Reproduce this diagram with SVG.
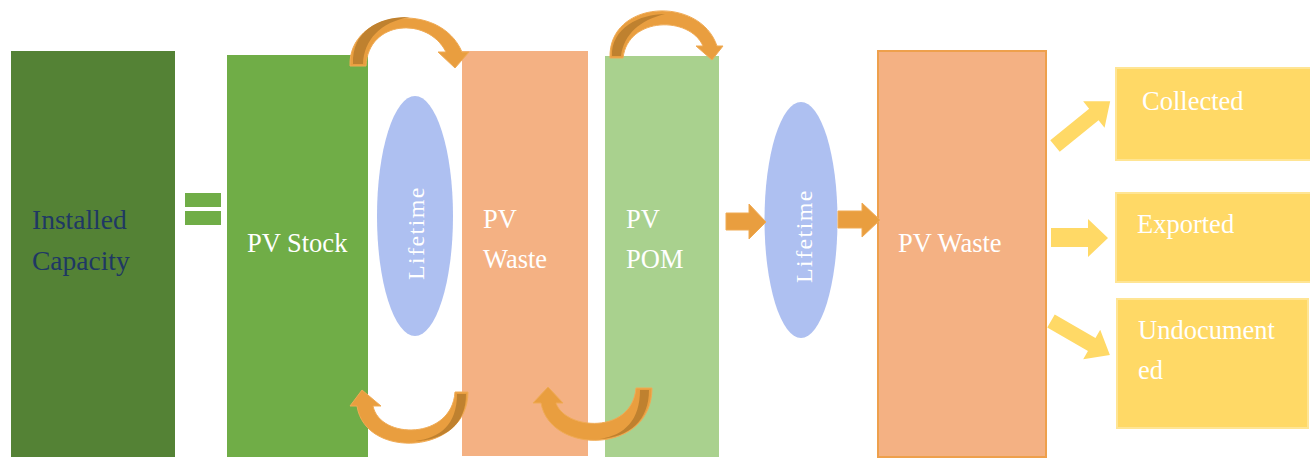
<svg xmlns="http://www.w3.org/2000/svg" width="1310" height="459" viewBox="0 0 1310 459">
<style>
.t{font-family:"Liberation Serif","DejaVu Serif",serif;font-size:26.5px;fill:#ffffff}
.dk{fill:#1f3864}
.lt{font-family:"Liberation Serif","DejaVu Serif",serif;font-size:24px;fill:#ffffff;letter-spacing:1.4px}
.oa{fill:#e99e3f;stroke:#f0ab55;stroke-width:1}
.sh{fill:#bf812f}
.ya{fill:#ffd966}
.yb{fill:#ffd966;stroke:#ffe594;stroke-width:2}
.el{fill:#aec0f1}
</style>
<rect width="1310" height="459" fill="#ffffff"/>
<g id="installed-capacity">
<rect x="11" y="51" width="164" height="406" fill="#548235"/>
<text class="t dk" x="32" y="229" style="font-size:27.5px">Installed</text>
<text class="t dk" x="32" y="270" style="font-size:27.5px">Capacity</text>
</g>
<g id="equals">
<rect x="185" y="193" width="36" height="14" fill="#70ad47"/>
<rect x="185" y="211" width="36" height="14" fill="#70ad47"/>
</g>
<g id="pv-stock">
<rect x="227" y="55" width="141" height="402" fill="#70ad47"/>
<text class="t" x="247" y="252">PV Stock</text>
</g>
<g id="lifetime-1">
<ellipse class="el" cx="415" cy="216" rx="38" ry="120"/>
<text class="lt" transform="translate(424,280) rotate(-90)">Lifetime</text>
</g>
<g id="pv-waste-1">
<rect x="462" y="51" width="126" height="405" fill="#f4b183"/>
<text class="t" x="483" y="228">PV</text>
<text class="t" x="483" y="268">Waste</text>
</g>
<g id="pv-pom">
<rect x="605" y="56" width="114" height="401" fill="#a9d18e"/>
<text class="t" x="626" y="228">PV</text>
<text class="t" x="626" y="268">POM</text>
</g>
<g id="lifetime-2">
<ellipse class="el" cx="801" cy="220" rx="36.5" ry="118"/>
<text class="lt" transform="translate(812,283) rotate(-90)">Lifetime</text>
</g>
<g id="pv-waste-2">
<rect x="878" y="51" width="168" height="406" fill="#f4b183" stroke="#eea04c" stroke-width="2"/>
<text class="t" x="898" y="252">PV Waste</text>
</g>
<g id="collected">
<rect class="yb" x="1116" y="68" width="200" height="92"/>
<text class="t" x="1142" y="110">Collected</text>
</g>
<g id="exported">
<rect class="yb" x="1116" y="193" width="200" height="89"/>
<text class="t" x="1137" y="233">Exported</text>
</g>
<g id="undocumented">
<rect class="yb" x="1117" y="299" width="191" height="129"/>
<text class="t" x="1138" y="339">Undocument</text>
<text class="t" x="1138" y="379">ed</text>
</g>
<g id="connectors">
<path class="oa" d="M350,66 C348,10 440,0 462,52 L469,52 L455,68 L438,52 L446,52 C428,16 368,20 366,66 Z"/>
<path class="sh" d="M353,64 C352,30 380,16 410,17 C380,22 364,40 363,64 Z"/>
<path class="oa" d="M610,58 C608,0 700,-5 717,46 L723,46 L712,60 L696,46 L703,46 C690,16 628,16 623,58 Z"/>
<path class="sh" d="M612,56 C611,28 640,14 665,14 C640,20 624,34 621,56 Z"/>
<path class="oa" d="M468,392 C468,455 365,460 357,406 L350,406 L362,390 L381,406 L373,406 C380,440 452,440 455,392 Z"/>
<path class="sh" d="M457,394 C457,425 440,438 415,441 C445,440 466,425 466,394 Z"/>
<path class="oa" d="M652,388 C652,455 550,455 541,403 L533,403 L548,387 L563,403 L556,403 C565,430 632,435 636,388 Z"/>
<path class="sh" d="M640,390 C640,420 625,435 600,439 C630,437 649,420 649,390 Z"/>
<polygon class="oa" points="726,213 749,213 749,204 766,222 749,239 749,230 726,230"/>
<polygon class="oa" points="838,211 862,211 862,203 880,220 862,237 862,228 838,228"/>
<polygon class="ya" transform="translate(1055,146) rotate(-39)" points="0,-7.5 50,-7.5 50,-17 71,0 50,17 50,7.5 0,7.5"/>
<polygon class="ya" points="1051,228 1088,228 1088,219 1108,238 1088,257 1088,247 1051,247"/>
<polygon class="ya" transform="translate(1051,321) rotate(30)" points="0,-7.5 47,-7.5 47,-17 68,0 47,17 47,7.5 0,7.5"/>
</g>
</svg>
